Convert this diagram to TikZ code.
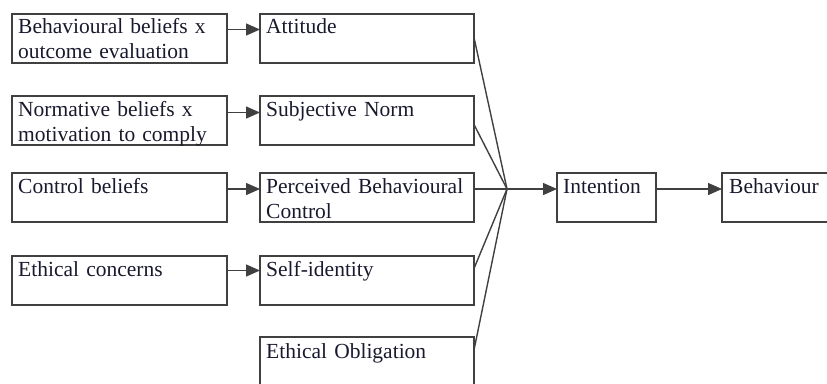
\documentclass[tikz,border=0pt]{standalone}
\usepackage{fontspec}
\setmainfont{Liberation Serif}
\usetikzlibrary{arrows.meta}
\definecolor{linegray}{gray}{0.25}
\definecolor{textcol}{rgb}{0.1,0.1,0.18}
\begin{document}
\begin{tikzpicture}[x=1pt,y=-1pt,
  box/.style={draw=linegray, line width=1.4pt, inner sep=0pt, outer sep=0pt, minimum height=49pt, anchor=north west},
  lbox/.style={box, minimum width=215pt},
  mbox/.style={box, minimum width=214pt},
  txt/.style={anchor=base west, inner sep=0pt, text width=212pt, align=left, font=\fontsize{21.5}{25}\selectfont, text=textcol},
  arr/.style={draw=linegray, line width=1.4pt, -{Triangle[length=14pt,width=12pt]}},
  conn/.style={draw=linegray, line width=1.4pt}]
\useasboundingbox (0,0) rectangle (827,383);
\clip (0,0) rectangle (827,383);
% left column
\node[lbox] (L1) at (12,14) {};
\node[lbox] (L2) at (12,96) {};
\node[lbox] (L3) at (12,173) {};
\node[lbox] (L4) at (12,256) {};
% middle column
\node[mbox] (M1) at (260,14) {};
\node[mbox] (M2) at (260,96) {};
\node[mbox] (M3) at (260,173) {};
\node[mbox] (M4) at (260,256) {};
\node[mbox, minimum height=60pt] (M5) at (260,337) {};
% right
\node[box, minimum width=99pt] (I) at (557,173) {};
\node[box, minimum width=130pt] (B) at (722,173) {};
% texts
\node[txt] (tL1) at ([shift={(6,19.5)}]L1.north west) {Behavioural beliefs x\\outcome evaluation};
\node[txt] (tL2) at ([shift={(6,20)}]L2.north west) {Normative beliefs x\\motivation to comply};
\node[txt] (tL3) at ([shift={(6,20.5)}]L3.north west) {Control beliefs};
\node[txt] (tL4) at ([shift={(6,20.5)}]L4.north west) {Ethical concerns};
\node[txt] (tM1) at ([shift={(6,19.5)}]M1.north west) {Attitude};
\node[txt] (tM2) at ([shift={(6,20)}]M2.north west) {Subjective Norm};
\node[txt] (tM3) at ([shift={(6,20.5)}]M3.north west) {Perceived Behavioural\\Control};
\node[txt] (tM4) at ([shift={(6,20.5)}]M4.north west) {Self-identity};
\node[txt] (tM5) at ([shift={(6,21)}]M5.north west) {Ethical Obligation};
\node[txt] (tI) at ([shift={(6,20.5)}]I.north west) {Intention};
\node[txt] (tB) at ([shift={(7,20.5)}]B.north west) {Behaviour};
% left arrows
\draw[arr] ([yshift=9pt]L1.east) -- ([yshift=9pt]M1.west);
\draw[arr] ([yshift=8pt]L2.east) -- ([yshift=8pt]M2.west);
\draw[arr] ([yshift=8.5pt]L3.east) -- ([yshift=8.5pt]M3.west);
\draw[arr] ([yshift=10pt]L4.east) -- ([yshift=10pt]M4.west);
% convergence
\coordinate (J) at (507,189);
\draw[conn] ([yshift=1pt]M1.east) -- (J);
\draw[conn] ([yshift=-4pt]M2.east) -- (J);
\draw[conn] ([yshift=8.5pt]M3.east) -- (J);
\draw[conn] ([yshift=12pt]M4.east) -- (J);
\draw[conn] ([shift={(0,13)}]M5.north east) -- (J);
\draw[arr] (J) -- ([yshift=8.5pt]I.west);
\draw[arr] ([yshift=8.5pt]I.east) -- ([yshift=8.5pt]B.west);
\end{tikzpicture}
\end{document}
